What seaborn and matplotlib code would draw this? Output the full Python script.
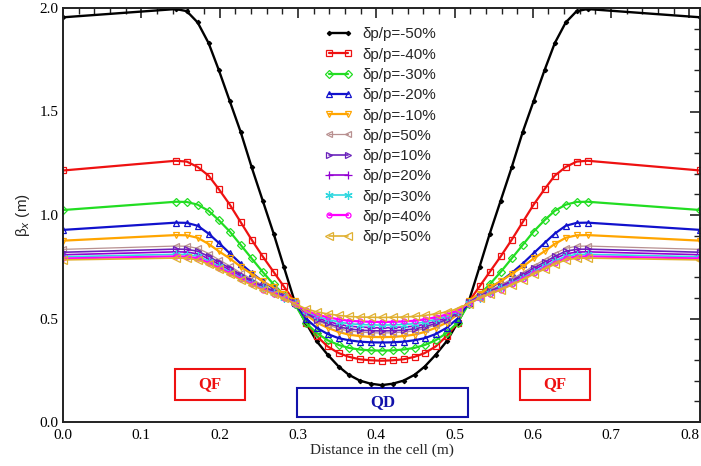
import matplotlib
matplotlib.use("Agg")
import matplotlib.pyplot as plt
from matplotlib.patches import Rectangle
from matplotlib.ticker import MultipleLocator
import seaborn as sns

# positions along the cell (m)
s = [0.000, 0.144, 0.158, 0.172, 0.186, 0.199, 0.213, 0.227, 0.241, 0.255, 0.269,
     0.282, 0.296, 0.310, 0.324, 0.338, 0.352, 0.365, 0.379, 0.393, 0.407,
     0.421, 0.435, 0.449, 0.462, 0.476, 0.490, 0.504, 0.518, 0.532, 0.545,
     0.559, 0.573, 0.587, 0.601, 0.615, 0.628, 0.642, 0.656, 0.670, 0.814]

# beta_x (m) for each momentum deviation
beta_m50 = [1.955, 1.995, 1.985, 1.930, 1.830, 1.700, 1.550, 1.400, 1.230, 1.070, 0.910,
            0.750, 0.580, 0.480, 0.390, 0.325, 0.268, 0.228, 0.200, 0.185, 0.178,
            0.185, 0.200, 0.228, 0.268, 0.325, 0.390, 0.480, 0.580, 0.750, 0.910,
            1.070, 1.230, 1.400, 1.550, 1.700, 1.830, 1.930, 1.985, 1.995, 1.955]
beta_m40 = [1.215, 1.262, 1.258, 1.232, 1.190, 1.125, 1.050, 0.965, 0.880, 0.800, 0.725,
            0.655, 0.580, 0.480, 0.415, 0.365, 0.333, 0.315, 0.303, 0.298, 0.296,
            0.298, 0.303, 0.315, 0.333, 0.365, 0.415, 0.480, 0.580, 0.655, 0.725,
            0.800, 0.880, 0.965, 1.050, 1.125, 1.190, 1.232, 1.258, 1.262, 1.215]
beta_m30 = [1.024, 1.064, 1.063, 1.050, 1.020, 0.975, 0.920, 0.855, 0.790, 0.725, 0.665,
            0.615, 0.570, 0.480, 0.430, 0.395, 0.372, 0.358, 0.350, 0.346, 0.345,
            0.346, 0.350, 0.358, 0.372, 0.395, 0.430, 0.480, 0.570, 0.615, 0.665,
            0.725, 0.790, 0.855, 0.920, 0.975, 1.020, 1.050, 1.063, 1.064, 1.024]
beta_m20 = [0.928, 0.963, 0.962, 0.948, 0.910, 0.865, 0.815, 0.765, 0.720, 0.680, 0.645,
            0.610, 0.575, 0.500, 0.455, 0.425, 0.405, 0.395, 0.388, 0.385, 0.384,
            0.385, 0.388, 0.395, 0.405, 0.425, 0.455, 0.500, 0.575, 0.610, 0.645,
            0.680, 0.720, 0.765, 0.815, 0.865, 0.910, 0.948, 0.962, 0.963, 0.928]
beta_m10 = [0.876, 0.903, 0.902, 0.890, 0.860, 0.825, 0.790, 0.750, 0.715, 0.680, 0.650,
            0.620, 0.585, 0.520, 0.480, 0.455, 0.435, 0.422, 0.415, 0.411, 0.410,
            0.411, 0.415, 0.422, 0.435, 0.455, 0.480, 0.520, 0.585, 0.620, 0.650,
            0.680, 0.715, 0.750, 0.790, 0.825, 0.860, 0.890, 0.902, 0.903, 0.876]
beta_0 = [0.834, 0.850, 0.849, 0.839, 0.814, 0.784, 0.754, 0.720, 0.691, 0.661, 0.637,
          0.611, 0.580, 0.525, 0.490, 0.469, 0.451, 0.440, 0.435, 0.431, 0.430,
          0.431, 0.435, 0.440, 0.451, 0.469, 0.490, 0.525, 0.580, 0.611, 0.637,
          0.661, 0.691, 0.720, 0.754, 0.784, 0.814, 0.839, 0.849, 0.850, 0.834]
beta_p10 = [0.820, 0.835, 0.834, 0.825, 0.800, 0.772, 0.744, 0.712, 0.683, 0.655, 0.632,
            0.608, 0.578, 0.527, 0.495, 0.476, 0.460, 0.450, 0.444, 0.441, 0.440,
            0.441, 0.444, 0.450, 0.460, 0.476, 0.495, 0.527, 0.578, 0.608, 0.632,
            0.655, 0.683, 0.712, 0.744, 0.772, 0.800, 0.825, 0.834, 0.835, 0.820]
beta_p20 = [0.808, 0.822, 0.821, 0.812, 0.789, 0.762, 0.735, 0.704, 0.677, 0.650, 0.628,
            0.604, 0.576, 0.531, 0.503, 0.486, 0.472, 0.463, 0.459, 0.456, 0.455,
            0.456, 0.459, 0.463, 0.472, 0.486, 0.503, 0.531, 0.576, 0.604, 0.628,
            0.650, 0.677, 0.704, 0.735, 0.762, 0.789, 0.812, 0.821, 0.822, 0.808]
beta_p30 = [0.798, 0.810, 0.809, 0.801, 0.778, 0.752, 0.726, 0.697, 0.671, 0.645, 0.624,
            0.601, 0.574, 0.535, 0.510, 0.496, 0.483, 0.475, 0.471, 0.469, 0.468,
            0.469, 0.471, 0.475, 0.483, 0.496, 0.510, 0.535, 0.574, 0.601, 0.624,
            0.645, 0.671, 0.697, 0.726, 0.752, 0.778, 0.801, 0.809, 0.810, 0.798]
beta_p40 = [0.790, 0.800, 0.799, 0.791, 0.769, 0.744, 0.719, 0.691, 0.665, 0.640, 0.620,
            0.598, 0.572, 0.539, 0.519, 0.506, 0.496, 0.489, 0.486, 0.484, 0.483,
            0.484, 0.486, 0.489, 0.496, 0.506, 0.519, 0.539, 0.572, 0.598, 0.620,
            0.640, 0.665, 0.691, 0.719, 0.744, 0.769, 0.791, 0.799, 0.800, 0.790]
beta_p50 = [0.783, 0.792, 0.791, 0.783, 0.762, 0.738, 0.714, 0.686, 0.662, 0.638, 0.618,
            0.597, 0.572, 0.547, 0.532, 0.522, 0.515, 0.510, 0.507, 0.506, 0.505,
            0.506, 0.507, 0.510, 0.515, 0.522, 0.532, 0.547, 0.572, 0.597, 0.618,
            0.638, 0.662, 0.686, 0.714, 0.738, 0.762, 0.783, 0.791, 0.792, 0.783]

labels = ['δp/p=-50%', 'δp/p=-40%', 'δp/p=-30%', 'δp/p=-20%', 'δp/p=-10%', 'δp/p=50%',
          'δp/p=10%', 'δp/p=20%', 'δp/p=30%', 'δp/p=40%', 'δp/p=50%']
series = [beta_m50, beta_m40, beta_m30, beta_m20, beta_m10, beta_0,
          beta_p10, beta_p20, beta_p30, beta_p40, beta_p50]

# magnets: name, start, end (m)
magnets = [('QF', 0.143, 0.232), ('QD', 0.299, 0.517), ('QF', 0.584, 0.673)]

# colour, marker, marker size, filled, line width
styles = [
    ('black', 'D', 2.2, True, 1.7),
    ('#ee1111', 's', 4.0, False, 1.6),
    ('#22dd22', 'D', 4.2, False, 1.6),
    ('#1111cc', '^', 4.6, False, 1.6),
    ('#ffa500', 'v', 4.6, False, 1.6),
    ('#b89090', '<', 5.0, False, 0.9),
    ('#6a22bb', '>', 5.0, False, 1.2),
    ('#9400d3', '+', 6.0, False, 1.2),
    ('#30d8e0', (6, 2, 0), 6.0, False, 1.2),
    ('#ff00ff', 'o', 3.6, False, 1.6),
    ('#e0b030', '<', 5.2, False, 1.2),
]

sns.set_style('white')
plt.rcParams['font.family'] = ['Liberation Serif', 'DejaVu Serif']
plt.rcParams['mathtext.fontset'] = 'dejavusans'

fig = plt.figure(figsize=(7.01, 4.66), dpi=100)
ax = fig.add_axes([63 / 701, 44 / 466, 637 / 701, 414 / 466])

for vals, lab, (col, mk, ms, filled, lw) in zip(series, labels, styles):
    sns.lineplot(x=s, y=vals, ax=ax, color=col, linewidth=lw, marker=mk,
                 markersize=ms, markeredgecolor=col,
                 markerfacecolor=col if filled else 'none',
                 markeredgewidth=0.9, label=lab, sort=False, legend=False)

for name, x0, x1 in magnets:
    if name == 'QF':
        col, y0, y1 = '#ee1111', 0.106, 0.256
    else:
        col, y0, y1 = '#1111aa', 0.024, 0.164
    ax.add_patch(Rectangle((x0, y0), x1 - x0, y1 - y0, fill=False,
                           edgecolor=col, linewidth=1.5, zorder=1))
    ax.text((x0 + x1) / 2, (y0 + y1) / 2, name, color=col, fontsize=12,
            fontweight='bold', ha='center', va='center')

ax.set_xlim(0, 0.8135)
ax.set_ylim(0, 2.0)
ax.xaxis.set_major_locator(MultipleLocator(0.1))
ax.xaxis.set_minor_locator(MultipleLocator(0.02))
ax.yaxis.set_major_locator(MultipleLocator(0.5))
ax.yaxis.set_minor_locator(MultipleLocator(0.1))
ax.xaxis.set_major_formatter(plt.FormatStrFormatter('%.1f'))
ax.yaxis.set_major_formatter(plt.FormatStrFormatter('%.1f'))
ax.tick_params(which='both', direction='in', top=True, right=True, colors='#222222',
               labelcolor='black', labelsize=11)
ax.tick_params(which='major', length=7, width=1.2)
ax.tick_params(which='minor', length=4, width=1.0)
ax.tick_params(axis='y', pad=3)
ax.tick_params(axis='x', pad=5)
for sp in ax.spines.values():
    sp.set_color('#222222')
    sp.set_linewidth(1.4)

ax.set_xlabel('Distance in the cell (m)', fontsize=11, labelpad=1)
ax.set_ylabel(r'β$_x$ (m)', fontsize=11, family=['Liberation Sans', 'DejaVu Sans'],
              labelpad=6)

ax.legend(loc='upper left', bbox_to_anchor=(0.411, 0.953), frameon=False,
          prop={'family': ['Liberation Sans', 'DejaVu Sans'], 'size': 11},
          handlelength=1.85, handletextpad=0.6, labelspacing=0.41,
          borderpad=0, borderaxespad=0, numpoints=2)

fig.savefig('out.png', dpi=100)
